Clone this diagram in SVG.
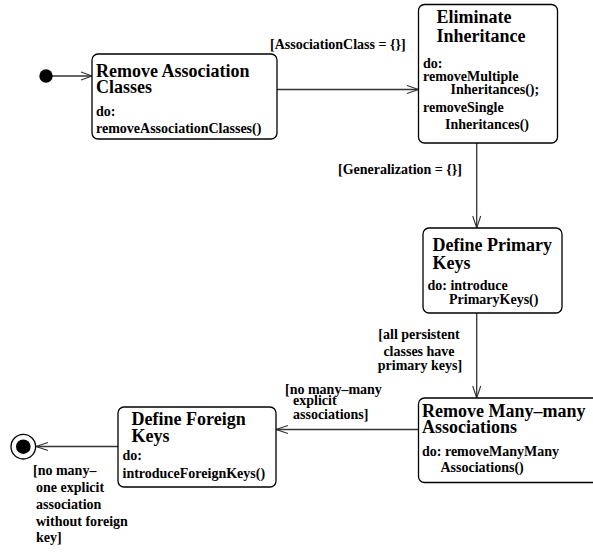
<svg xmlns="http://www.w3.org/2000/svg" width="593" height="553" viewBox="0 0 593 553">
<style>
text{font-family:"Liberation Serif","Times New Roman",serif;font-weight:bold;fill:#000}
.t{font-size:18px}
.b{font-size:14px}
.l{font-size:14px}
.box{fill:#fff;stroke:#000;stroke-width:1.3}
.ln{fill:none;stroke:#333;stroke-width:1.3}
.ah{fill:none;stroke:#333;stroke-width:1.1}
</style>
<rect width="593" height="553" fill="#fff"/>
<g id="connectors">
  <line class="ln" x1="46" y1="76" x2="92" y2="76"/>
  <polyline class="ah" points="81,72 92,76 81,80"/>
  <line class="ln" x1="277" y1="89.5" x2="418.5" y2="89.5"/>
  <polyline class="ah" points="407,85.5 418.5,89.5 407,93.5"/>
  <line class="ln" x1="476.7" y1="143" x2="476.7" y2="228"/>
  <polyline class="ah" points="472.7,216 476.7,228 480.7,216"/>
  <line class="ln" x1="476.7" y1="313" x2="476.7" y2="398"/>
  <polyline class="ah" points="472.7,386 476.7,398 480.7,386"/>
  <line class="ln" x1="418.5" y1="429.5" x2="276" y2="429.5"/>
  <polyline class="ah" points="288,425.5 276,429.5 288,433.5"/>
  <line class="ln" x1="118" y1="446.5" x2="36" y2="446.5"/>
  <polyline class="ah" points="48,442.5 36,446.5 48,450.5"/>
  <text class="l" x="270" y="49">[AssociationClass = {}]</text>
  <text class="l" x="338" y="174">[Generalization = {}]</text>
  <text class="l" x="419" y="339" text-anchor="middle">[all persistent</text>
  <text class="l" x="419" y="356" text-anchor="middle">classes have</text>
  <text class="l" x="420" y="369.5" text-anchor="middle">primary keys]</text>
  <text class="l" x="285" y="393.5">[no many–many</text>
  <text class="l" x="293" y="405">explicit</text>
  <text class="l" x="293" y="418.5">associations]</text>
  <text class="l" x="33" y="475">[no many–</text>
  <text class="l" x="36" y="492">one explicit</text>
  <text class="l" x="36" y="509">association</text>
  <text class="l" x="36" y="526">without foreign</text>
  <text class="l" x="36" y="542">key]</text>
</g>
<g id="initial">
  <circle cx="46" cy="76" r="6.7" fill="#000"/>
</g>
<g id="final">
  <circle cx="23.3" cy="446.7" r="12.3" fill="#fff" stroke="#000" stroke-width="1.3"/>
  <circle cx="23.3" cy="446.7" r="7.3" fill="#000"/>
</g>
<g id="removeAssociationClasses">
  <rect class="box" x="92" y="54" width="185" height="85" rx="6"/>
  <text class="t" x="96" y="77">Remove Association</text>
  <text class="t" x="96" y="93">Classes</text>
  <text class="b" x="96" y="116">do:</text>
  <text class="b" x="96" y="133">removeAssociationClasses()</text>
</g>
<g id="eliminateInheritance">
  <rect class="box" x="418.5" y="4.5" width="139" height="138.5" rx="6"/>
  <text class="t" x="436.5" y="23">Eliminate</text>
  <text class="t" x="436.5" y="41.5">Inheritance</text>
  <text class="b" x="423" y="68">do:</text>
  <text class="b" x="423" y="80.5">removeMultiple</text>
  <text class="b" x="450.5" y="94">Inheritances();</text>
  <text class="b" x="423" y="111.5">removeSingle</text>
  <text class="b" x="445" y="129">Inheritances()</text>
</g>
<g id="definePrimaryKeys">
  <rect class="box" x="423" y="228" width="139" height="85" rx="6"/>
  <text class="t" x="432.5" y="250.5">Define Primary</text>
  <text class="t" x="432.5" y="268.5">Keys</text>
  <text class="b" x="427.5" y="290">do: introduce</text>
  <text class="b" x="449" y="304">PrimaryKeys()</text>
</g>
<g id="removeManyManyAssociations">
  <rect class="box" x="418.5" y="398" width="182" height="84.5" rx="6"/>
  <text class="t" x="422" y="416.5">Remove Many–many</text>
  <text class="t" x="422" y="433">Associations</text>
  <text class="b" x="422" y="455.5">do: removeManyMany</text>
  <text class="b" x="440.5" y="471.5">Associations()</text>
</g>
<g id="defineForeignKeys">
  <rect class="box" x="118" y="407" width="158" height="80" rx="6"/>
  <text class="t" x="131.5" y="424.5">Define Foreign</text>
  <text class="t" x="131.5" y="441.5">Keys</text>
  <text class="b" x="122.5" y="460">do:</text>
  <text class="b" x="122.5" y="478">introduceForeignKeys()</text>
</g>
</svg>
